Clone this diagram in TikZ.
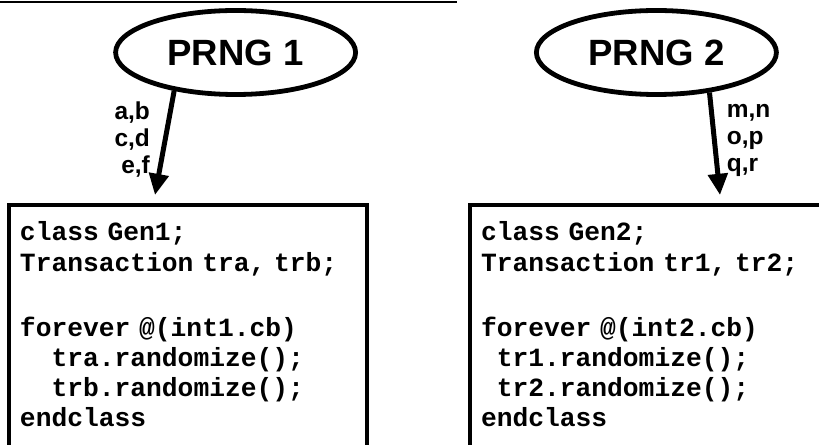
\documentclass[tikz,border=0pt]{standalone}
\usepackage{fontspec}
\setsansfont{Liberation Sans}
\setmonofont{Liberation Mono}
\usepackage{tikz}
\usetikzlibrary{positioning, arrows.meta, shapes.geometric}

\tikzset{
  prng/.style={ellipse, draw, line width=1.2mm, minimum width=6.0cm, minimum height=2.1cm,
    font=\sffamily\bfseries\fontsize{26}{30}\selectfont},
  codebox/.style={draw, line width=1mm, anchor=north west, text width=8.4cm, align=left,
    inner xsep=2.75mm, inner ysep=0pt, text height=9mm, text depth=7cm,
    font=\ttfamily\bfseries\fontsize{18.7}{21.5}\selectfont},
  vals/.style={font=\sffamily\bfseries\fontsize{17.4}{19.2}\selectfont, inner sep=0pt}
}

\begin{document}
\begin{tikzpicture}[>={Triangle[length=5.3mm, width=4.8mm]}]
  \useasboundingbox (0,0) rectangle (20.475,-11.125);

  % rule along the top edge
  \draw[line width=0.5mm] (0,-0.04) -- (11.425,-0.04);

  % generators
  \node[prng] (prng1) at (5.89,-1.3125)  {PRNG 1};
  \node[prng] (prng2) at (16.41,-1.3125) {PRNG 2};

  % classes
  \node[codebox] (gen1) at (0.175,-5.075) {class Gen1;\\
Transaction tra, trb;\\[8.7mm]
forever @(int1.cb)\\
\hspace*{1.2em}tra.randomize();\\
\hspace*{1.2em}trb.randomize();\\
endclass};
  \node[codebox] (gen2) at (11.7,-5.075) {class Gen2;\\
Transaction tr1, tr2;\\[8.7mm]
forever @(int2.cb)\\
\hspace*{0.6em}tr1.randomize();\\
\hspace*{0.6em}tr2.randomize();\\
endclass};

  % random values
  \draw[->, line width=1.25mm] (prng1.212) -- ([shift={(-0.825,0.2)}]gen1.north)
    node[vals, pos=0.47, left=3.2mm, align=right] {a,b\\c,d\\e,f};
  \draw[->, line width=1.25mm] (prng2.-37.5) -- ([shift={(1.775,0.2)}]gen2.north)
    node[vals, pos=0.47, right=2.5mm, align=left] {m,n\\o,p\\q,r};
\end{tikzpicture}
\end{document}
